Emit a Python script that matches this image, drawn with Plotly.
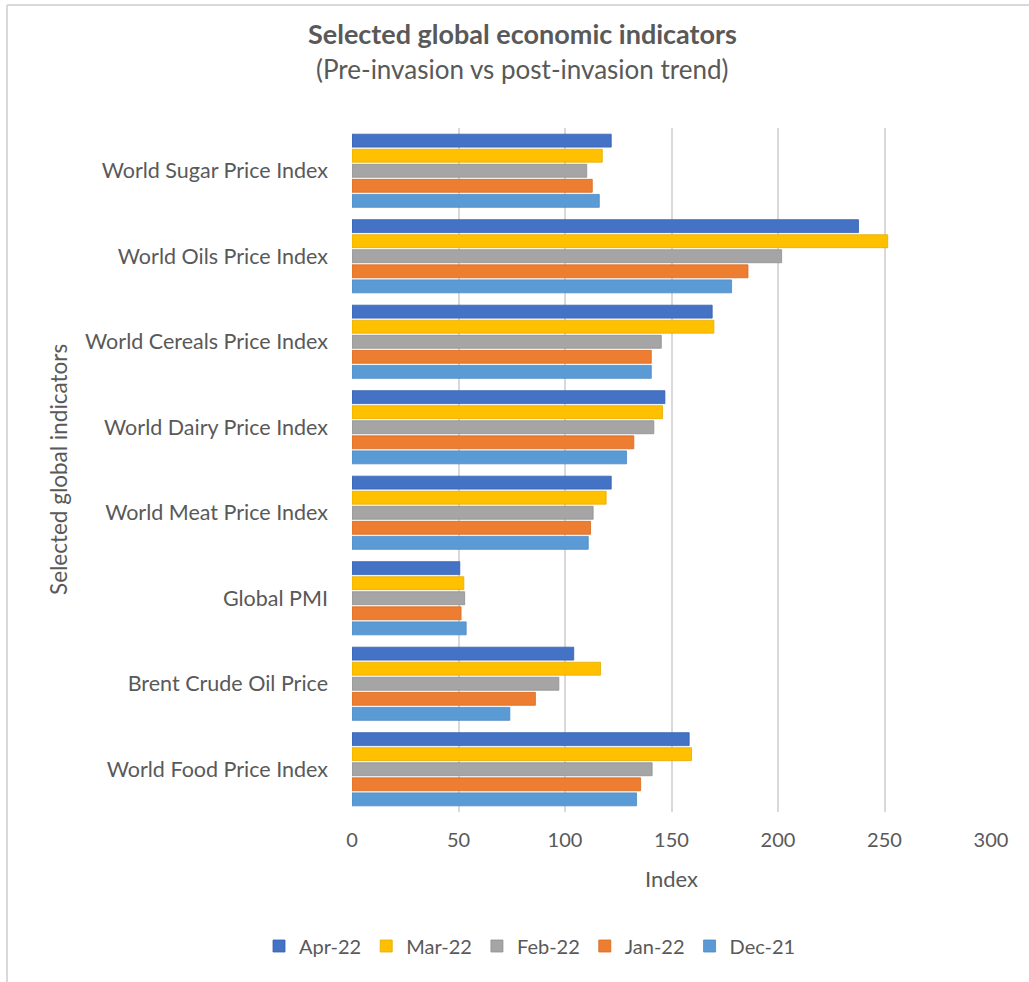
import plotly.graph_objects as go

categories = [
    "World Food Price Index",
    "Brent Crude Oil Price",
    "Global PMI",
    "World Meat Price Index",
    "World Dairy Price Index",
    "World Cereals Price Index",
    "World Oils Price Index",
    "World Sugar Price Index",
]

dec_21 = [133.6, 74.1, 53.6, 110.9, 128.9, 140.5, 178.2, 116.1]
jan_22 = [135.5, 86.1, 51.2, 112.0, 132.3, 140.5, 185.9, 112.8]
feb_22 = [140.9, 97.1, 52.9, 113.2, 141.7, 145.2, 201.7, 110.2]
mar_22 = [159.4, 116.7, 52.5, 119.3, 145.8, 169.9, 251.5, 117.5]
apr_22 = [158.3, 104.1, 50.6, 121.7, 146.9, 169.1, 237.8, 121.7]

series_names = ["Dec-21", "Jan-22", "Feb-22", "Mar-22", "Apr-22"]
series_values = [dec_21, jan_22, feb_22, mar_22, apr_22]
series_colors = ["#5B9BD5", "#ED7D31", "#A5A5A5", "#FFC000", "#4472C4"]
line_colors = ["#4A89C4", "#D86A1F", "#8F8F8F", "#E5AC00", "#3561B0"]

x_ticks = [0, 50, 100, 150, 200, 250, 300]

FONT = "Lato"
TXT = "#595959"

fig = go.Figure()
for name, vals, col, lc in zip(series_names, series_values, series_colors, line_colors):
    fig.add_trace(go.Bar(
        y=categories, x=vals, name=name, orientation="h",
        marker=dict(color=col, line=dict(color=lc, width=0.8)),
    ))

W, H = 1029, 982
L, R, T, B = 352, 38, 128, 170
pw, ph = W - L - R, H - T - B

def px(x):
    return (x - L) / pw

def py(y):
    return (H - B - y) / ph

fig.update_layout(
    width=W, height=H,
    margin=dict(l=L, r=R, t=T, b=B),
    paper_bgcolor="white", plot_bgcolor="white",
    barmode="group", bargap=0.12, bargroupgap=0.14,
    font=dict(family=FONT, color=TXT, size=20),
    showlegend=True,
    legend=dict(
        orientation="h", traceorder="reversed",
        x=px(530), xanchor="center", y=py(946), yanchor="middle",
        font=dict(size=20, color=TXT), itemwidth=30,
    ),
    xaxis=dict(
        range=[0, 300], tickvals=x_ticks, showgrid=True,
        gridcolor="#D9D9D9", gridwidth=1.5, zeroline=False,
        showline=False, ticks="", tickfont=dict(size=20, color=TXT),
        ticklabelstandoff=14,
    ),
    yaxis=dict(
        showgrid=False, showline=False, ticks="",
        tickfont=dict(size=21.5, color=TXT), ticklabelstandoff=23,
    ),
    annotations=[
        dict(text="<b>Selected global economic indicators</b>", x=px(522), y=py(33),
             xref="paper", yref="paper", showarrow=False, xanchor="center", yanchor="middle",
             font=dict(size=27, color=TXT, family=FONT)),
        dict(text="(Pre-invasion vs post-invasion trend)", x=px(522), y=py(69),
             xref="paper", yref="paper", showarrow=False, xanchor="center", yanchor="middle",
             font=dict(size=26, color=TXT, family=FONT)),
        dict(text="Index", x=px(671), y=py(878),
             xref="paper", yref="paper", showarrow=False, xanchor="center", yanchor="middle",
             font=dict(size=22, color=TXT, family=FONT)),
        dict(text="Selected global indicators", x=px(58), y=py(470), textangle=-90,
             xref="paper", yref="paper", showarrow=False, xanchor="center", yanchor="middle",
             font=dict(size=22.5, color=TXT, family=FONT)),
    ],
    shapes=[
        dict(type="line", xref="paper", yref="paper", x0=px(7), x1=px(1029), y0=py(5), y1=py(5),
             line=dict(color="#D9D9D9", width=2)),
        dict(type="line", xref="paper", yref="paper", x0=px(7), x1=px(7), y0=py(5), y1=py(982),
             line=dict(color="#D9D9D9", width=2)),
    ],
)

fig.write_html("out.html")
